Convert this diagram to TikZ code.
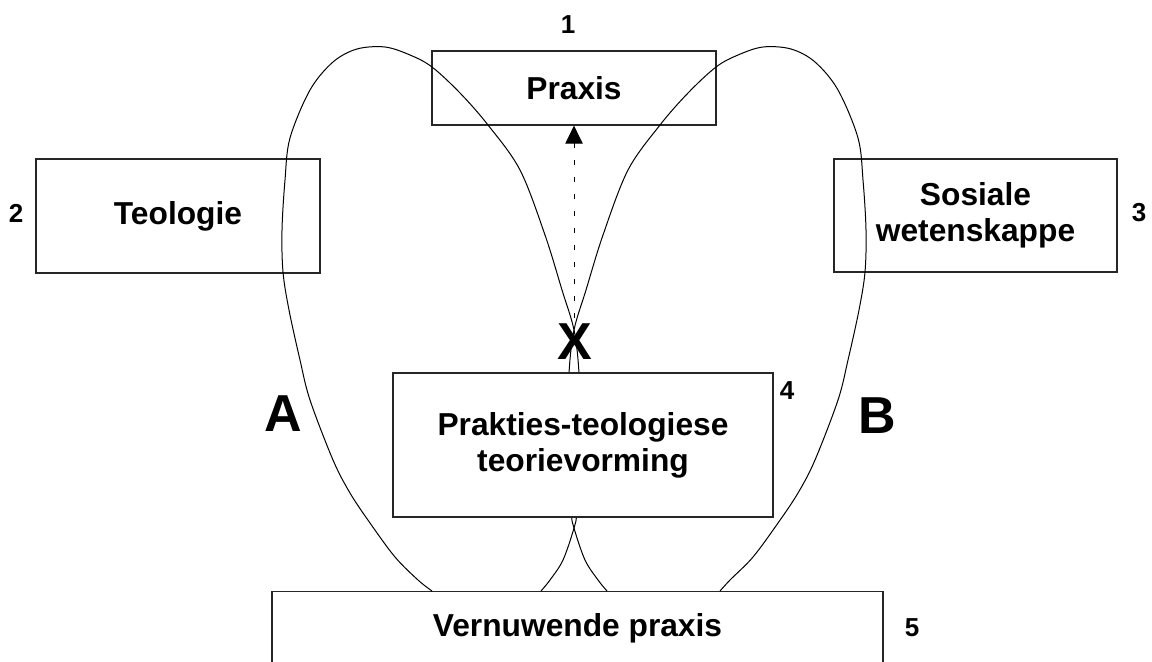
\documentclass[tikz,border=0pt]{standalone}
\usepackage{fontspec}
\setmainfont{Liberation Sans}
\usetikzlibrary{arrows.meta}
\begin{document}
\begin{tikzpicture}[x=0.75pt,y=-0.75pt,
  box/.style={draw=black!85, line width=0.9pt, font=\fontsize{23.8pt}{27pt}\selectfont\bfseries, align=center, inner sep=0pt},
  num/.style={font=\fontsize{19.5pt}{21pt}\selectfont\bfseries, inner sep=0pt},
  big/.style={font=\fontsize{39pt}{42pt}\selectfont\bfseries, inner sep=0pt},
  loopline/.style={draw=black, line width=0.75pt},
  dashedarrow/.style={draw=black, line width=0.75pt, dash pattern=on 3.75pt off 9pt, -{Triangle[length=13.5pt,width=13pt]}}]
\clip (0,0) rectangle (1152,661);
\fill[white] (0,0) rectangle (1152,661);

% boxes the loops pass through
\node[box, minimum width=213pt, minimum height=55.5pt] (praxis) at (574,88) {Praxis};
\node[box, minimum width=213pt, minimum height=85.5pt] (teo) at (178,216) {Teologie};
\node[box, minimum width=212.25pt, minimum height=84.75pt] (sos) at (975.5,215.5) {Sosiale\\wetenskappe};
\node[box, fill=white, anchor=north, minimum width=458.25pt, inner ysep=17pt, text height=17pt, text depth=40pt] (vern) at (577.5,591) {Vernuwende praxis};

% loop end points on the top of box 5
\coordinate (aS) at (432,591);
\coordinate (aE) at (541,591);
\coordinate (bS) at (720,591);
\coordinate (bE) at (607,591);

% loop A
\draw[loopline] plot[smooth, tension=0.55] coordinates {(aS) (418,580) (395,557) (370,523) (350,493) (333,460) (310,400) (300,360) (289,310) (283,272) (282,230) (285,180) (290,138) (310,90) (333,62) (357,49) (385,47) (410,55) (432,67) (460,93) (488,125) (520,170) (545,235) (562,290) (574,330) (579,373) (581,440) (577,510) (574,528) (563,560) (550,580) (aE)};
% loop B
\draw[loopline] plot[smooth, tension=0.55] coordinates {(bS) (730,580) (753,557) (778,523) (798,493) (815,460) (838,400) (848,360) (859,310) (865,272) (866,230) (863,180) (858,138) (838,90) (815,62) (791,49) (763,47) (738,55) (716,67) (688,93) (660,125) (628,170) (603,235) (586,290) (574,330) (569,373) (567,440) (571,510) (574,528) (585,560) (598,580) (bE)};

% box 4 hides the loops
\node[box, fill=white, minimum width=285pt, minimum height=108pt] (prak) at (583,445) {Prakties-teologiese\\teorievorming};

% X and dashed arrow
\node[big] (x) at (575,342) {X};
\coordinate (xtop) at (574,318);
\draw[dashedarrow] (xtop) -- (praxis.south);

% letters
\node[big] (la) at (283,414) {A};
\node[big] (lb) at (877,416) {B};

% numbers
\node[num] (n1) at (568,25) {1};
\node[num] (n2) at (16,213) {2};
\node[num] (n3) at (1139,213) {3};
\node[num] (n4) at (787,391) {4};
\node[num] (n5) at (912,628) {5};
\end{tikzpicture}
\end{document}
